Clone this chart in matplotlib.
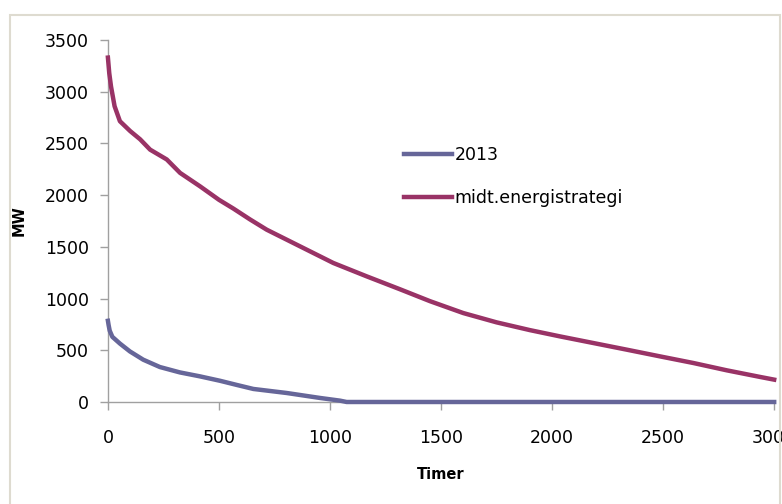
import matplotlib.pyplot as plt
from matplotlib.patches import Rectangle

# Varighedskurver (timer sorteret efter effekt)
timer_2013 = [0, 3, 8, 20, 54, 99, 159, 234, 324, 414, 505, 580, 655, 805, 955, 1045, 1075, 3000]
mw_2013 = [785, 745, 690, 630, 565, 489, 409, 338, 286, 248, 205, 165, 126, 87, 39, 13, 0, 0]

timer_midt = [0, 6, 14, 30, 54, 100, 145, 190, 265, 325, 415, 500, 565, 640, 715, 865,
              1015, 1165, 1315, 1450, 1600, 1750, 1900, 2036, 2186, 2336, 2486,
              2636, 2787, 2937, 3000]
mw_midt = [3330, 3180, 3050, 2860, 2715, 2620, 2540, 2440, 2345, 2215, 2085, 1955, 1870,
           1765, 1666, 1505, 1344, 1215, 1090, 975, 860, 770, 695, 634, 570, 506,
           441, 377, 306, 242, 216]

x_ticks = [0, 500, 1000, 1500, 2000, 2500, 3000]
y_ticks = [0, 500, 1000, 1500, 2000, 2500, 3000, 3500]

plt.rcParams['font.family'] = 'DejaVu Sans'

fig = plt.figure(figsize=(7.82, 5.04), dpi=100)
ax = fig.add_axes([0.138, 0.2024, 0.852, 0.7182])

ax.plot(timer_2013, mw_2013, color='#666699', lw=3.2, label='2013', clip_on=False, zorder=3)
ax.plot(timer_midt, mw_midt, color='#993366', lw=3.2, label='midt.energistrategi',
        clip_on=False, zorder=3)

ax.set_xlim(0, 3000)
ax.set_ylim(0, 3500)
ax.set_xticks(x_ticks)
ax.set_yticks(y_ticks)
ax.tick_params(axis='both', direction='out', length=5.8, width=1, color='#a0a0a0',
               labelsize=12.5)
ax.tick_params(axis='x', pad=14)
ax.tick_params(axis='y', pad=8)

for s in ['top', 'right']:
    ax.spines[s].set_visible(False)
for s in ['left', 'bottom']:
    ax.spines[s].set_color('#a0a0a0')
    ax.spines[s].set_linewidth(1)

ax.set_xlabel('Timer', fontweight='bold', fontsize=10.5)
ax.set_ylabel('MW', fontweight='bold', fontsize=10.5)
ax.xaxis.set_label_coords(0.5, -0.18)
ax.yaxis.set_label_coords(-0.122, 0.5)

ax.legend(loc='upper left', bbox_to_anchor=(388 / 782, 1 - 130 / 504),
          bbox_transform=fig.transFigure, frameon=False, fontsize=12.5,
          handlelength=2.8, handletextpad=0.15, labelspacing=1.45)

# ramme om diagrammet
fig.add_artist(Rectangle((10 / 782, -0.1), 770 / 782, 1.1 - 15 / 504,
                         transform=fig.transFigure, fill=False,
                         edgecolor='#dedbd0', lw=1.5))

plt.savefig('out.png')
